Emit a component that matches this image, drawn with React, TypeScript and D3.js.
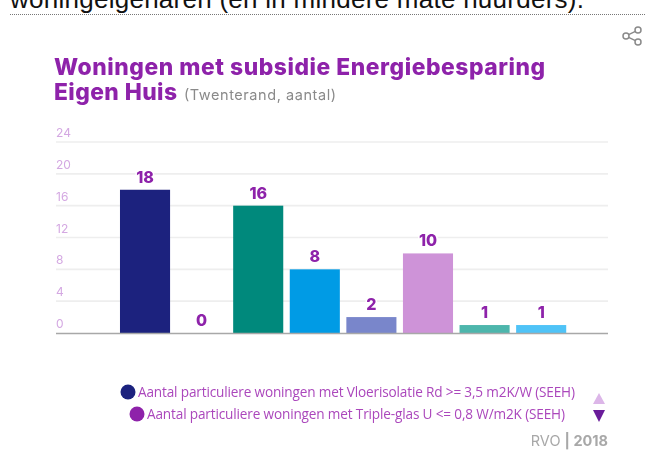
import React from "react";
import * as d3 from "d3";

const categories = ["A", "B", "C", "D", "E", "F", "G", "H"];
const values = [18, 0, 16, 8, 2, 10, 1, 1];
const colors = ["#1a237e", "#8e24aa", "#00897b", "#039be5", "#7986cb", "#ce93d8", "#4db6ac", "#4fc3f7"];
const ticks = [0, 4, 8, 12, 16, 20, 24];
const titleLines = ["Woningen met subsidie Energiebesparing", "Eigen Huis"];
const subtitle = "(Twenterand, aantal)";
const legendItems = [
  "Aantal particuliere woningen met Vloerisolatie Rd >= 3,5 m2K/W (SEEH)",
  "Aantal particuliere woningen met Triple-glas U <= 0,8 W/m2K (SEEH)",
];
const legendColors = ["#1a237e", "#8e24aa"];
const legendX = [128, 137];
const legendWidth = [437, 418];

const font = "'Open Sans', 'Noto Sans', sans-serif";
const wide = "Inter, 'Open Sans', sans-serif";

export default function App() {
  const x = d3.scaleBand<string>().domain(categories).range([116.7, 569.5]).paddingInner(0.115).paddingOuter(0.058);
  const y = d3.scaleLinear().domain([0, 24]).range([333, 142]);
  return (
    <svg width={646} height={469} style={{ position: "absolute", left: 0, top: 0, display: "block", background: "#fff" }}>
      <defs>
        <filter id="soft" x="-5%" y="-5%" width="110%" height="110%">
          <feGaussianBlur stdDeviation="0.45" />
        </filter>
      </defs>
      <text x={10} y={8} fontFamily="'Liberation Sans', Arial, sans-serif" fontSize={26} fill="#111" textLength={574} lengthAdjust="spacing">
        woningeigenaren (en in mindere mate huurders).
      </text>
      <line x1={10} x2={646} y1={14.5} y2={14.5} stroke="#777" strokeDasharray="1 1" />

      <g filter="url(#soft)">
        <g fill="none" stroke="#8a8a8a" strokeWidth={1.5} transform="translate(632,36)">
          <circle cx={6} cy={-6} r={3} />
          <circle cx={-6} cy={0} r={3} />
          <circle cx={6} cy={6} r={3} />
          <path d="M-3.4 -1.4 L3.4 -4.6 M-3.4 1.4 L3.4 4.6" />
        </g>

        <text x={54} y={75} fontFamily={wide} fontWeight={800} fontSize={22.8} fill="#8e24aa" textLength={491} lengthAdjust="spacing">{titleLines[0]}</text>
        <text x={54} y={100} fontFamily={wide} fontWeight={800} fontSize={22.8} fill="#8e24aa" textLength={123} lengthAdjust="spacing">{titleLines[1]}</text>
        <text x={184} y={100} fontFamily={wide} fontSize={14.5} fill="#8a8a8a" textLength={152} lengthAdjust="spacing">{subtitle}</text>

        {ticks.map((t) => (
          <g key={t}>
            {t > 0 && <line x1={56} x2={608} y1={y(t)} y2={y(t)} stroke="#eeeeee" strokeWidth={1.6} />}
            <text x={56} y={y(t) - 5} fontFamily={wide} fontSize={12} fill="#d4a8e2">{t}</text>
          </g>
        ))}

        {categories.map((c, i) => (
          <rect key={c} x={x(c)} y={y(values[i])} width={x.bandwidth()} height={y(0) - y(values[i])} fill={colors[i]} />
        ))}
        <line x1={56} x2={608} y1={333.5} y2={333.5} stroke="#a8a8a8" strokeWidth={1.5} />

        {categories.map((c, i) => (
          <text
            key={c}
            x={(x(c) as number) + x.bandwidth() / 2}
            y={y(values[i]) - 7}
            textAnchor="middle"
            fontFamily={wide}
            fontWeight={800}
            fontSize={16}
            fill="#8e24aa"
            stroke="#fff"
            strokeWidth={3}
            paintOrder="stroke"
          >
            {values[i]}
          </text>
        ))}

        {legendItems.map((t, i) => (
          <g key={t}>
            <circle cx={legendX[i]} cy={392 + i * 22} r={7.5} fill={legendColors[i]} />
            <text x={legendX[i] + 10} y={396.5 + i * 22} fontFamily={font} fontWeight={500} fontSize={13.6} fill="#ab47bc" textLength={legendWidth[i]} lengthAdjust="spacing">{t}</text>
          </g>
        ))}
        <path d="M593 404 L605 404 L599 393 Z" fill="#dcb6e8" />
        <path d="M593 410 L605 410 L599 422 Z" fill="#6a1b9a" />

        <text x={608} y={446} textAnchor="end" fontFamily={wide} fontSize={14.5} fill="#a8a8a8">
          RVO <tspan fontWeight={700}>| 2018</tspan>
        </text>
      </g>
    </svg>
  );
}
